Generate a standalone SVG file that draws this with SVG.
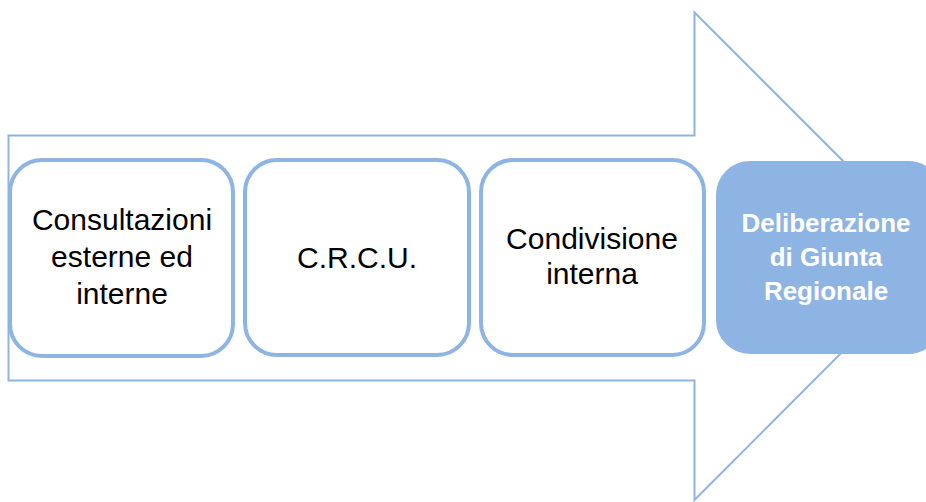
<svg xmlns="http://www.w3.org/2000/svg" width="926" height="502" viewBox="0 0 926 502">
<style>
.box{fill:#ffffff;stroke:#8EB4E3;stroke-width:4}
.fbox{fill:#8EB4E3;stroke:#8EB4E3;stroke-width:4}
.t{font-family:"Liberation Sans",Arial,sans-serif;font-size:30px;fill:#000000;text-anchor:middle}
.w{font-family:"Liberation Sans",Arial,sans-serif;font-size:26px;font-weight:bold;fill:#ffffff;text-anchor:middle}
</style>
<rect width="926" height="502" fill="#ffffff"/>
<g id="arrow">
<polygon points="8.5,135.5 694.5,135.5 694.5,12.5 938,256 694.5,500 694.5,380.5 8.5,380.5" fill="#ffffff" stroke="#8EB4E3" stroke-width="2"/>
</g>
<g id="connectors"></g>
<g id="n1">
<rect class="box" x="10" y="160" width="223" height="196" rx="32"/>
<text class="t" x="122" y="230">Consultazioni</text>
<text class="t" x="122" y="267">esterne ed</text>
<text class="t" x="122" y="304">interne</text>
</g>
<g id="n2">
<rect class="box" x="245" y="160" width="224" height="195" rx="32"/>
<text class="t" x="357" y="268">C.R.C.U.</text>
</g>
<g id="n3">
<rect class="box" x="481" y="160" width="223" height="195" rx="32"/>
<text class="t" x="592" y="249">Condivisione</text>
<text class="t" x="592" y="284">interna</text>
</g>
<g id="n4">
<rect class="fbox" x="718" y="163" width="222" height="189" rx="32"/>
<text class="w" x="826" y="232">Deliberazione</text>
<text class="w" x="826" y="266">di Giunta</text>
<text class="w" x="826" y="300">Regionale</text>
</g>
</svg>
